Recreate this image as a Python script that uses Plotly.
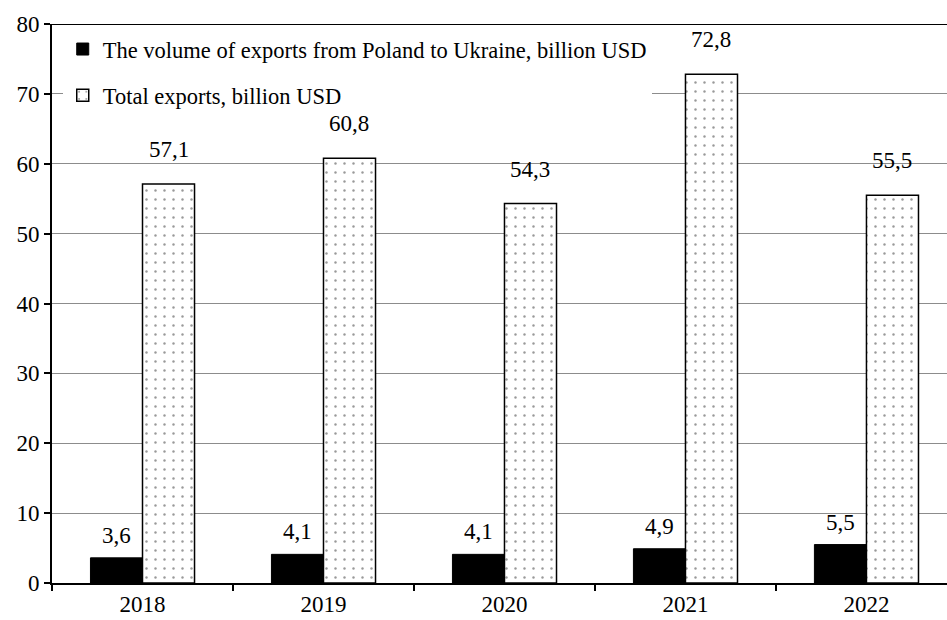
import plotly.graph_objects as go

years = ["2018", "2019", "2020", "2021", "2022"]
ukraine = [3.6, 4.1, 4.1, 4.9, 5.5]
total = [57.1, 60.8, 54.3, 72.8, 55.5]
name_ukraine = "The volume of exports from Poland to Ukraine, billion USD"
name_total = "Total exports, billion USD"
y_ticks = [0, 10, 20, 30, 40, 50, 60, 70, 80]

def fmt(v):
    return f"{v:.1f}".replace(".", ",")

FONT = "Liberation Serif"
FS = 23

fig = go.Figure()
fig.add_trace(go.Bar(
    x=years, y=ukraine, name=name_ukraine, legendgroup="a",
    marker=dict(color="black", line=dict(color="black", width=1)),
))
fig.add_trace(go.Bar(
    x=years, y=total, name=name_total, legendgroup="b",
    marker=dict(color="white", line=dict(color="black", width=1.5),
                pattern=dict(shape=".", fgcolor="#333", bgcolor="white",
                             size=9, solidity=0.06)),
))

# value labels: x is the category index, shifted by half a bar width
for i, v in enumerate(ukraine):
    fig.add_annotation(x=i, y=v, xref="x", yref="y", text=fmt(v),
                       showarrow=False, xshift=-26, yshift=8,
                       yanchor="bottom", font=dict(family=FONT, size=FS, color="black"))
for i, v in enumerate(total):
    fig.add_annotation(x=i, y=v, xref="x", yref="y", text=fmt(v),
                       showarrow=False, xshift=26, yshift=20,
                       yanchor="bottom", font=dict(family=FONT, size=FS, color="black"))

fig.update_layout(
    width=947, height=620,
    margin=dict(l=52, r=0, t=24, b=37),
    paper_bgcolor="white", plot_bgcolor="white",
    font=dict(family=FONT, size=FS, color="black"),
    barmode="group", bargap=0.425, bargroupgap=0,
    showlegend=True,
    legend=dict(x=0.012, y=0.993, xanchor="left", yanchor="top",
                bgcolor="white", borderwidth=0,
                font=dict(family=FONT, size=22.5, color="black"),
                tracegroupgap=14, itemwidth=30),
    xaxis=dict(type="category", range=[-0.5, 4.445], showline=True, linecolor="black",
               linewidth=1.5, ticks="outside", tickson="boundaries", ticklen=6,
               tickcolor="black", tickwidth=1.5, showgrid=False,
               tickfont=dict(family=FONT, size=FS)),
    yaxis=dict(range=[0, 80], tickvals=y_ticks, showline=True, linecolor="black",
               linewidth=2, ticks="outside", ticklen=6, tickcolor="black", tickwidth=1.5,
               showgrid=True, gridcolor="#8c8c8c", gridwidth=1, zeroline=False,
               tickfont=dict(family=FONT, size=FS)),
    shapes=[dict(type="line", xref="paper", yref="y", x0=0, x1=1, y0=80, y1=80,
                 line=dict(color="black", width=2))],
)

fig.write_html("out.html")
